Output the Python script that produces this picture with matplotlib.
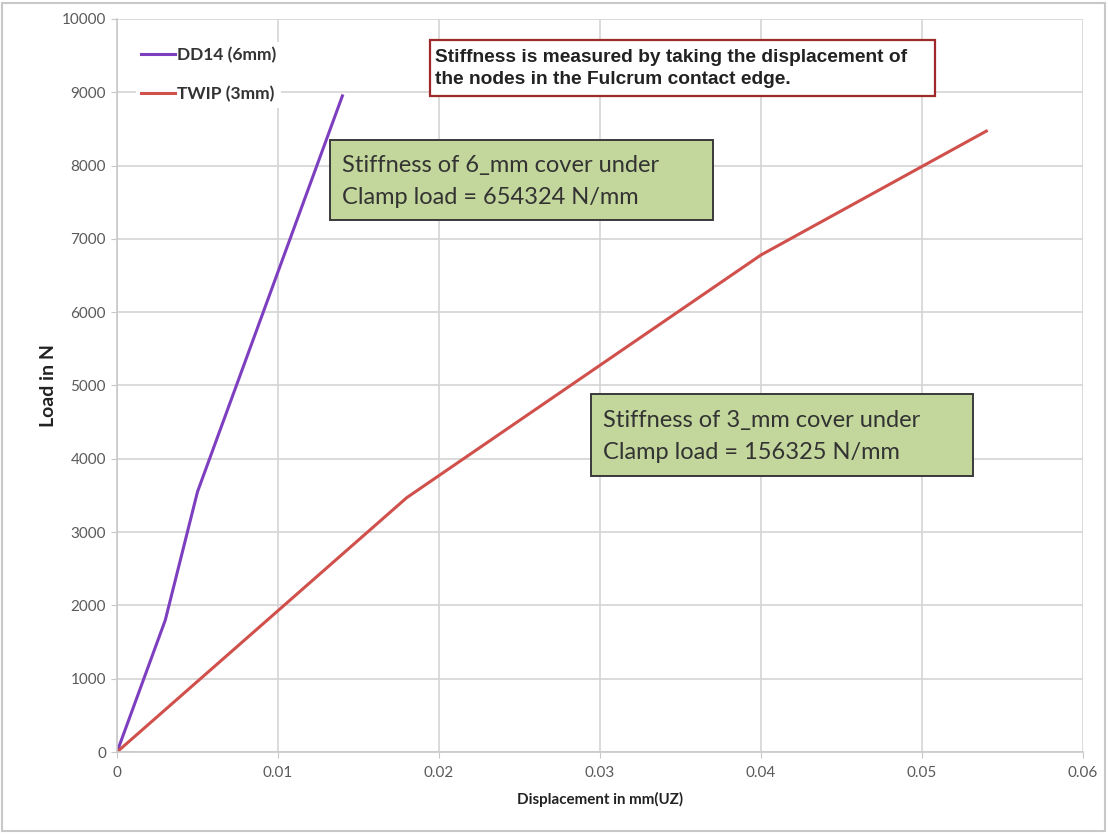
import matplotlib
matplotlib.use("Agg")
from matplotlib import pyplot as plt
from matplotlib.patches import Rectangle

# DD14 (6mm) curve
dd14_x = [0.0, 0.003, 0.005, 0.010, 0.014]
dd14_y = [0, 1800, 3550, 6550, 8950]

# TWIP (3mm) curve
twip_x = [0.0, 0.018, 0.040, 0.054]
twip_y = [0, 3470, 6780, 8470]

xticks = [0, 0.01, 0.02, 0.03, 0.04, 0.05, 0.06]
xtick_labels = ["0", "0.01", "0.02", "0.03", "0.04", "0.05", "0.06"]
yticks = list(range(0, 10001, 1000))

FONT = "Lato"

fig = plt.figure(figsize=(11.09, 8.34), dpi=100)
ax = fig.add_axes([0.1055, 0.0983, 0.871, 0.879])

ax.plot(dd14_x, dd14_y, color="#7d3fc0", lw=2.2, label="DD14 (6mm)")
ax.plot(twip_x, twip_y, color="#d0504c", lw=2.2, label="TWIP (3mm)")

ax.set_xlim(0, 0.06)
ax.set_ylim(0, 10000)
ax.set_xticks(xticks)
ax.set_xticklabels(xtick_labels)
ax.set_yticks(yticks)
ax.grid(True, color="#d4d4d4", lw=1.2)
ax.set_axisbelow(True)
for s in ["top", "right"]:
    ax.spines[s].set_visible(False)
for s in ["left", "bottom"]:
    ax.spines[s].set_color("#c8c8c8")
    ax.spines[s].set_linewidth(1.2)
ax.tick_params(colors="#c8c8c8", labelcolor="#5a5a5a", labelsize=11, length=4)
ax.tick_params(axis="y", pad=4)
ax.tick_params(axis="x", pad=6)
for lbl in ax.get_xticklabels() + ax.get_yticklabels():
    lbl.set_family(FONT)

ax.set_xlabel("Displacement in mm(UZ)", fontsize=10.9, fontweight="bold",
              family=FONT, color="#222222", labelpad=9)
ax.set_ylabel("Load in N", fontsize=14, fontweight="bold",
              family=FONT, color="#222222", labelpad=3)

leg = ax.legend(loc="upper left", bbox_to_anchor=(0.0105, 0.981), frameon=True,
                facecolor="white", edgecolor="none", framealpha=1,
                handlelength=1.95, handletextpad=0.1, labelspacing=1.33,
                borderpad=0.3, prop={"family": FONT, "weight": "bold",
                                     "size": 12.5})
for t in leg.get_texts():
    t.set_color("#333333")

# note box (red border)
ax.add_patch(Rectangle((0.324, 0.895), 0.5228, 0.0764, transform=ax.transAxes,
                       fc="white", ec="#a0282a", lw=1.6, zorder=4))
ax.text(0.329, 0.9325,
        "Stiffness is measured by taking the displacement of\n"
        "the nodes in the Fulcrum contact edge.",
        transform=ax.transAxes, fontsize=13.8, fontweight="bold",
        family="Liberation Sans", color="#222222", va="center", ha="left",
        linespacing=1.4, zorder=5)

# stiffness boxes
boxes = [
    ((0.2205, 0.7258, 0.3965, 0.109),
     "Stiffness of 6_mm cover under\nClamp load = 654324 N/mm"),
    ((0.4907, 0.3765, 0.3954, 0.1119),
     "Stiffness of 3_mm cover under\nClamp load = 156325 N/mm"),
]
for (bx, by, bw, bh), txt in boxes:
    ax.add_patch(Rectangle((bx, by), bw, bh, transform=ax.transAxes,
                           fc="#c3d69b", ec="#3a3a3a", lw=1.4, zorder=4))
    ax.text(bx + 0.0125, by + bh / 2 - 0.002, txt, transform=ax.transAxes,
            fontsize=17, family=FONT, color="#333333", va="center", ha="left",
            linespacing=1.6, zorder=5)

fig.patches.append(Rectangle((0.002, 0.004), 0.994, 0.992, transform=fig.transFigure,
                             fill=False, ec="#c8c8c8", lw=1.5))

fig.savefig("out.png", dpi=100)
